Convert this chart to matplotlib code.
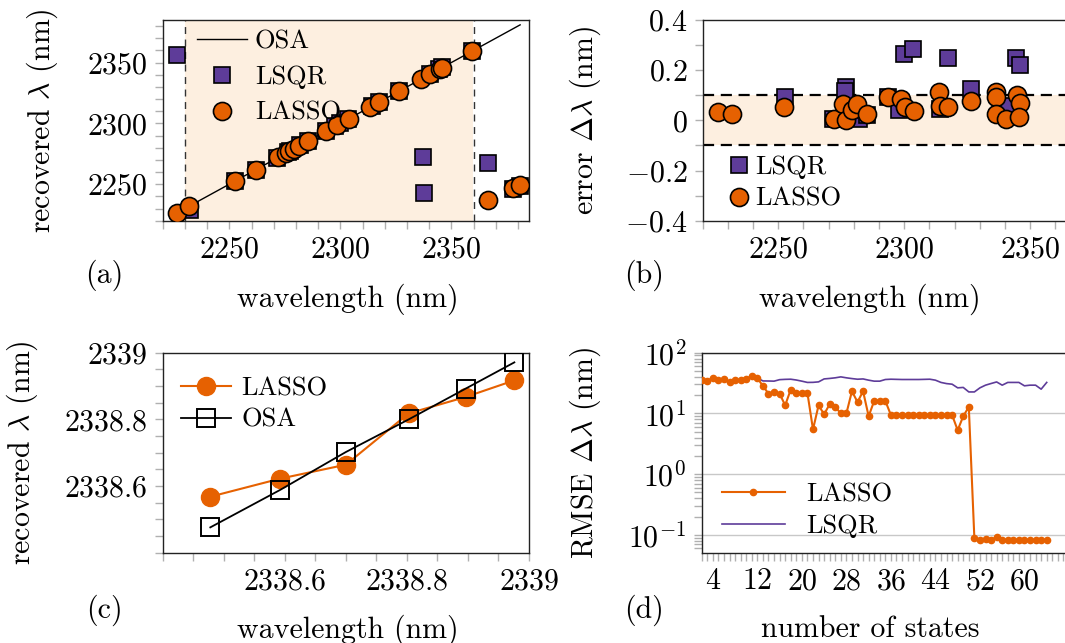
import matplotlib
matplotlib.use("Agg")
import matplotlib.pyplot as plt
from matplotlib.ticker import MultipleLocator, FuncFormatter, FixedLocator, LogLocator, NullFormatter
import numpy as np

plt.rcParams["font.family"] = "serif"
plt.rcParams["font.serif"] = ["cmr10", "DejaVu Serif"]
plt.rcParams["mathtext.fontset"] = "cm"
plt.rcParams["axes.formatter.use_mathtext"] = True
plt.rcParams["axes.unicode_minus"] = True

ORANGE = "#e66101"
PURPLE = "#5e3c99"
SHADE = "#fdefe0"
TICK = "#b0b0b0"
FS = 21.5      # ticks / axis labels
LFS = 19       # legends

# (a) recovered vs. true wavelength
lasso_a_wl = [2226.6, 2232.0, 2252.5, 2262.0, 2272.0, 2275.6, 2277.0, 2279.3, 2281.3,
              2285.5, 2293.5, 2298.7, 2303.7, 2313.6, 2317.5, 2326.3, 2336.2, 2340.5,
              2344.7, 2345.8, 2359.2, 2366.7, 2378.0, 2381.0]
lasso_a_rec = [2226.1, 2231.9, 2252.6, 2261.9, 2272.0, 2275.7, 2277.0, 2279.3, 2281.4,
               2285.5, 2293.6, 2298.8, 2303.7, 2313.7, 2317.6, 2326.4, 2336.3, 2340.5,
               2344.8, 2345.9, 2359.3, 2237.0, 2246.6, 2249.4]
lsqr_a_wl = [2226.6, 2232.5, 2252.5, 2262.0, 2271.6, 2276.5, 2277.5, 2281.9, 2285.3,
             2293.4, 2297.8, 2300.0, 2303.5, 2314.2, 2317.3, 2326.3, 2337.2, 2337.5,
             2340.5, 2344.5, 2345.8, 2359.2, 2366.7, 2378.0, 2381.0]
lsqr_a_rec = [2356.2, 2229.0, 2252.6, 2262.0, 2271.6, 2276.6, 2277.6, 2281.9, 2285.3,
              2293.5, 2297.8, 2300.3, 2303.8, 2314.2, 2317.6, 2326.4, 2272.6, 2242.5,
              2340.6, 2344.8, 2346.0, 2359.3, 2267.2, 2246.0, 2248.6]
osa_a = [2226.6, 2381.0]
band_a = (2230, 2360)

# (b) error
lsqr_b_wl = [2252.5, 2271.6, 2276.9, 2276.5, 2281.9, 2285.3, 2293.4, 2297.8, 2300.0,
             2303.5, 2317.3, 2314.2, 2326.3, 2340.5, 2344.5, 2345.8]
lsqr_b_err = [0.094, 0.006, 0.132, 0.115, 0.006, 0.020, 0.092, 0.041, 0.264,
              0.283, 0.250, 0.047, 0.125, 0.057, 0.250, 0.220]
lasso_b_wl = [2226.2, 2231.7, 2252.3, 2272.0, 2275.6, 2277.0, 2279.3, 2281.3, 2285.3,
              2293.4, 2298.7, 2300.4, 2303.7, 2313.6, 2314.2, 2317.5, 2326.3, 2336.2,
              2336.2, 2336.2, 2340.5, 2344.7, 2345.8, 2345.4]
lasso_b_err = [0.032, 0.024, 0.054, 0.005, 0.065, 0.003, 0.041, 0.065, 0.025,
               0.094, 0.084, 0.054, 0.037, 0.114, 0.057, 0.054, 0.077, 0.114,
               0.093, 0.026, 0.005, 0.102, 0.069, 0.012]
band_b = (-0.1, 0.1)

# (c) zoom on one line
osa_c = [2338.478, 2338.592, 2338.700, 2338.803, 2338.896, 2338.976]
osa_c_rec = [2338.476, 2338.588, 2338.702, 2338.800, 2338.892, 2338.971]
lasso_c_rec = [2338.568, 2338.622, 2338.664, 2338.818, 2338.867, 2338.917]

# (d) RMSE vs number of states
states = list(range(2, 65))
rmse_lasso = [35.1, 34.2, 38.3, 36.0, 37.4, 33.0, 35.1, 36.0, 37.4, 40.8,
              38.3, 28.3, 21.2, 22.6, 21.2, 13.6, 24.7, 21.7, 21.7, 21.7,
              5.45, 13.6, 9.7, 14.2, 12.8, 10.0, 10.0, 23.2, 15.4, 23.2,
              9.0, 16.1, 16.1, 16.1, 9.4, 9.3, 9.3, 9.4, 9.3, 9.3,
              9.4, 9.3, 9.3, 9.4, 9.3, 9.4, 5.3, 9.0, 12.8, 0.088,
              0.082, 0.087, 0.084, 0.091, 0.083, 0.082, 0.082, 0.082, 0.082, 0.082,
              0.082, 0.082, 0.082]
rmse_lsqr = [35.1, 34.2, 38.3, 36.0, 37.4, 33.0, 35.1, 36.0, 37.4, 40.8,
             38.3, 34.3, 34.2, 34.0, 36.0, 36.4, 36.6, 35.5, 34.0, 32.4,
             32.5, 33.1, 37.0, 37.7, 38.6, 40.0, 38.6, 37.5, 36.6, 37.0,
             35.3, 34.0, 34.0, 36.2, 36.6, 36.4, 36.2, 36.2, 36.2, 36.2,
             36.4, 36.6, 35.3, 32.4, 31.0, 30.3, 26.4, 26.8, 22.6, 22.6,
             26.4, 29.2, 31.1, 33.0, 29.2, 32.4, 32.4, 32.4, 28.5, 29.2,
             29.2, 25.1, 32.4]

W, H = 1065, 643


def add_axes(fig, left, top, width, height):
    return fig.add_axes([left / W, 1 - (top + height) / H, width / W, height / H])


def style(ax):
    for s in ["top", "right", "left", "bottom"]:
        ax.spines[s].set_linewidth(1.0)
        ax.spines[s].set_color("#222222")
    ax.tick_params(which="both", direction="out", length=6, width=1, color=TICK,
                   labelsize=FS, pad=5, top=False, right=False)


fmt = FuncFormatter(lambda v, _: f"${v:g}$" if abs(v) > 1e-9 else "$0$")

fig = plt.figure(figsize=(W / 100, H / 100), dpi=100)

# ---------------- (a)
ax = add_axes(fig, 162.7, 20, 366.3, 200.7)
ax.axvspan(*band_a, color=SHADE, lw=0, zorder=0)
for b in band_a:
    ax.axvline(b, color="#333333", lw=1.0, ls=(0, (5, 4)), zorder=1)
ax.plot(osa_a, osa_a, color="black", lw=1.0, zorder=2, label="OSA")
ax.plot(lsqr_a_wl, lsqr_a_rec, ls="none", marker="s", ms=12, mfc=PURPLE,
        mec="black", mew=1.2, zorder=3, label="LSQR")
ax.plot(lasso_a_wl, lasso_a_rec, ls="none", marker="o", ms=13, mfc=ORANGE,
        mec="black", mew=1.2, zorder=4, label="LASSO")
ax.set_xlim(2220, 2385)
ax.set_ylim(2220, 2385)
ax.xaxis.set_major_locator(FixedLocator([2250, 2300, 2350]))
ax.yaxis.set_major_locator(FixedLocator([2250, 2300, 2350]))
ax.xaxis.set_minor_locator(MultipleLocator(10))
ax.yaxis.set_minor_locator(MultipleLocator(10))
ax.xaxis.set_major_formatter(fmt)
ax.yaxis.set_major_formatter(fmt)
style(ax)
ax.set_xlabel("wavelength (nm)", fontsize=FS)
ax.set_ylabel(r"recovered $\lambda$ (nm)", fontsize=FS)
ax.xaxis.set_label_coords(0.506, -0.315)
ax.yaxis.set_label_coords(-0.28, 0.5)
ax.legend(loc="upper left", bbox_to_anchor=(0.05, 1.03), frameon=False,
          fontsize=LFS, handlelength=1.9, handletextpad=0.3, labelspacing=0.45,
          borderaxespad=0.2)

# ---------------- (b)
ax = add_axes(fig, 702.7, 20, 415.8, 200.7)
ax.axhspan(*band_b, color=SHADE, lw=0, zorder=0)
for b in band_b:
    ax.axhline(b, color="black", lw=1.6, ls=(0, (5, 3)), zorder=1)
ax.plot(lsqr_b_wl, lsqr_b_err, ls="none", marker="s", ms=12, mfc=PURPLE,
        mec="black", mew=1.2, zorder=3, label="LSQR")
ax.plot(lasso_b_wl, lasso_b_err, ls="none", marker="o", ms=13, mfc=ORANGE,
        mec="black", mew=1.2, zorder=4, label="LASSO")
ax.set_xlim(2220, 2385)
ax.set_ylim(-0.4, 0.4)
ax.xaxis.set_major_locator(FixedLocator([2250, 2300, 2350]))
ax.xaxis.set_minor_locator(MultipleLocator(10))
ax.yaxis.set_major_locator(MultipleLocator(0.2))
ax.yaxis.set_minor_locator(MultipleLocator(0.1))
ax.xaxis.set_major_formatter(fmt)
ax.yaxis.set_major_formatter(fmt)
style(ax)
ax.set_xlabel("wavelength (nm)", fontsize=FS)
ax.set_ylabel(r"error $\Delta\lambda$ (nm)", fontsize=FS)
ax.xaxis.set_label_coords(0.402, -0.315)
ax.yaxis.set_label_coords(-0.24, 0.5)
ax.legend(loc="lower left", bbox_to_anchor=(0.005, -0.07), frameon=False,
          fontsize=LFS, handlelength=0.8, handletextpad=0.2, labelspacing=0.3)

# ---------------- (c)
ax = add_axes(fig, 162.7, 352.7, 366.3, 200)
ax.plot(osa_c, lasso_c_rec, color=ORANGE, lw=1.5, marker="o", ms=13,
        mec=ORANGE, zorder=3, label="LASSO")
ax.plot(osa_c, osa_c_rec, color="black", lw=1.3, marker="s", ms=13,
        mfc="none", mec="black", mew=1.4, zorder=4, label="OSA")
ax.set_xlim(2338.4, 2339.0)
ax.set_ylim(2338.4, 2339.0)
ax.xaxis.set_major_locator(FixedLocator([2338.6, 2338.8, 2339.0]))
ax.yaxis.set_major_locator(FixedLocator([2338.6, 2338.8, 2339.0]))
ax.xaxis.set_minor_locator(MultipleLocator(0.05))
ax.yaxis.set_minor_locator(MultipleLocator(0.05))
ax.xaxis.set_major_formatter(fmt)
ax.yaxis.set_major_formatter(fmt)
style(ax)
ax.set_xlabel("wavelength (nm)", fontsize=FS)
ax.set_ylabel(r"recovered $\lambda$ (nm)", fontsize=FS)
ax.xaxis.set_label_coords(0.506, -0.31)
ax.yaxis.set_label_coords(-0.335, 0.5)
ax.legend(loc="upper left", bbox_to_anchor=(-0.015, 1.0), frameon=False,
          fontsize=LFS, handlelength=1.9, handletextpad=0.4, labelspacing=0.3)

# ---------------- (d)
ax = add_axes(fig, 701.7, 352.7, 378.4, 200)
ax.set_yscale("log")
ax.grid(axis="y", which="major", color="#c8c8c8", lw=1.0, zorder=0)
ax.plot(states, rmse_lasso, color=ORANGE, lw=1.5, marker="o", ms=4.5,
        zorder=3, label="LASSO")
ax.plot(states, rmse_lsqr, color=PURPLE, lw=1.2, zorder=2, label="LSQR")
ax.set_xlim(2, 70)
ax.set_ylim(0.051, 100)
ax.xaxis.set_major_locator(FixedLocator(list(range(4, 61, 8))))
ax.xaxis.set_minor_locator(MultipleLocator(1))
ax.yaxis.set_major_locator(FixedLocator([0.1, 1, 10, 100]))
ax.yaxis.set_minor_locator(LogLocator(base=10, subs=np.arange(2, 10), numticks=20))
ax.yaxis.set_minor_formatter(NullFormatter())
style(ax)
ax.set_xlabel("number of states", fontsize=FS)
ax.set_ylabel(r"RMSE $\Delta\lambda$ (nm)", fontsize=FS)
ax.xaxis.set_label_coords(0.445, -0.315)
ax.yaxis.set_label_coords(-0.26, 0.5)
ax.legend(loc="lower left", bbox_to_anchor=(-0.01, -0.045), frameon=False,
          fontsize=LFS, handlelength=2.4, labelspacing=0.3)

for label, x, y in [("(a)", 104, 275), ("(b)", 644, 275), ("(c)", 104, 610), ("(d)", 644, 610)]:
    fig.text(x / W, 1 - y / H, label, fontsize=FS, ha="center", va="center")

fig.savefig("out.png", dpi=100, facecolor="white")
